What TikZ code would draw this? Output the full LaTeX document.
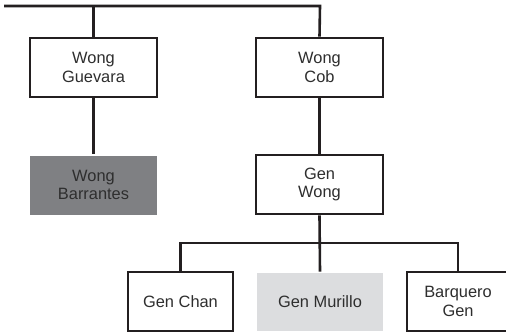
\documentclass[tikz,border=0pt]{standalone}
\usepackage{fontspec}
\setmainfont{Liberation Sans}
\definecolor{ink}{HTML}{231F20}
\definecolor{txt}{HTML}{2E2E2E}
\definecolor{darkfill}{HTML}{7F8083}
\definecolor{lightfill}{HTML}{DCDDDF}
\begin{document}
\begin{tikzpicture}[x=1pt,y=-1pt,
  line width=2.6pt,
  wire/.style={draw=ink, line width=2.6pt},
  box/.style={draw=ink, line width=2.6pt, fill=white, minimum width=127pt, minimum height=59pt,
    inner sep=0pt, align=center, font=\fontsize{16.4}{18.5}\selectfont, text=txt},
  shaded/.style={box, draw=none},
]
\useasboundingbox (0,0) rectangle (506,335);
\begin{scope}
\clip (0,0) rectangle (506,335);
% top bus
\coordinate (tl) at (4,6);
\coordinate (tr) at (320,6);
\node[box] (guev) at (93.5,67.5) {Wong\\Guevara};
\node[box] (cob) at (319.5,67.5) {Wong\\Cob};
\node[shaded, fill=darkfill] (barr) at (93.5,185) {Wong\\Barrantes};
\node[box] (genw) at (319.5,184.5) {Gen\\Wong};
\node[box, minimum width=105pt] (chan) at (180.5,301.5) {Gen Chan};
\node[shaded, fill=lightfill, minimum width=126pt, minimum height=58pt] (mur) at (320,302) {Gen Murillo};
\node[box, minimum width=102pt] (barq) at (458,301.5) {Barquero\\Gen};
\coordinate (bus) at (319.5,243);
\draw[wire] (tl) -- (tr) -- (cob.north);
\draw[wire] (guev.north |- tl) -- (guev.north);
\draw[wire] (guev.south) -- (barr.north);
\draw[wire] (cob.south) -- (genw.north);
\draw[wire] (genw.south) -- (mur.north);
\draw[wire] (chan.north) -- (chan.north |- bus) -- (barq.north |- bus) -- (barq.north);
\end{scope}
\end{tikzpicture}
\end{document}
